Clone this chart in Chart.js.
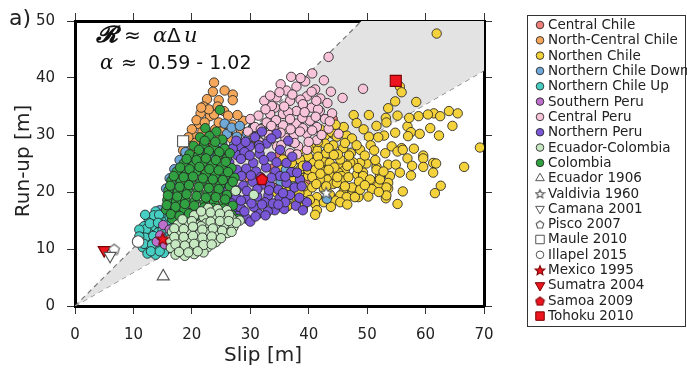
<!DOCTYPE html>
<html>
<head>
<meta charset="utf-8">
<script src="https://cdn.jsdelivr.net/npm/chart.js@4.4.1/dist/chart.umd.min.js"></script>
<style>
  html, body { margin: 0; padding: 0; background: #fff; }
  canvas { display: block; }
</style>
</head>
<body>
<canvas id="chart" width="687" height="368"></canvas>
<script>
// slip [m], run-up [m]
const centralChile = [[44.1,32.8],[38.3,25.7],[39.4,21.6],[33.8,24.1],[33.9,20.8],[35.0,26.5],[37.0,28.8],[29.8,22.5]];

const northCentralChile = [
  [23.8,39.2],[22.6,36.3],[24.6,36.1],[27.0,37.1],[27.0,36.1],[23.1,33.3],[23.8,33.6],[27.0,31.8],[28.8,32.5],
  [21.9,31.4],[21.2,31.9],[20.2,29.9],[19.2,28.2],[18.5,27.3],[20.5,28.6],[21.4,27.0],[23.1,28.6],[24.8,29.4],
  [19.0,25.0],[20.3,23.5],[23.4,25.0],[22.0,35.0],[21.5,33.8],[25.5,34.2],[26.2,30.5],[22.6,30.2],[19.8,26.6],
  [24.0,31.0],[25.8,27.5],[27.8,33.5],[22.9,34.5],[20.8,32.6],[29.6,26.5],[28.0,29.0],[21.8,24.0],[30.5,28.8],
  [23.6,37.6],[25.6,37.8],[21.6,34.8],[24.4,35.0],[26.2,33.4],[22.2,32.2],[24.6,32.2],[20.0,31.0],[22.4,29.0],
  [25.0,30.6],[19.4,29.6],[18.8,26.2],[20.0,27.6],[21.8,30.6],[26.8,29.4],[28.4,30.8],[23.2,26.4]
];

const northernChile = [
  [61.9,47.8],[55.6,38.5],[55.9,37.5],[54.8,35.9],[58.4,35.8],[53.6,34.7],[47.7,33.5],[50.3,33.5],[53.2,33.0],
  [55.2,33.4],[58.8,33.3],[61.4,33.8],[62.5,33.3],[64.0,34.2],[65.5,33.8],[48.2,32.1],[53.3,32.2],[64.6,31.6],
  [56.9,31.5],[57.5,30.5],[57.0,29.8],[62.3,29.9],[69.3,27.8],[52.9,29.9],[50.3,29.7],[51.9,29.6],[42.8,29.9],
  [44.2,30.2],[46.5,29.9],[47.4,29.4],[50.6,28.2],[54.2,28.0],[55.9,27.7],[59.6,26.4],[53.1,26.8],[55.2,27.1],
  [56.1,27.4],[56.9,25.9],[59.6,25.9],[61.3,25.1],[61.8,25.0],[57.7,24.6],[59.6,24.4],[61.3,23.4],[66.6,24.4],
  [57.5,22.9],[53.6,24.8],[54.9,24.8],[51.6,24.4],[49.9,25.0],[48.8,25.1],[47.6,25.2],[47.2,26.8],[48.3,23.1],
  [50.8,21.9],[52.2,22.8],[53.9,22.8],[53.6,21.6],[51.9,21.1],[53.6,20.6],[53.2,18.9],[55.2,17.9],[62.6,21.1],
  [61.6,19.8],[49.3,23.4],[45.4,24.8],[46.2,23.9],[45.6,21.4],[47.6,19.9],[48.5,19.1],[47.1,19.4],[46.2,18.7],
  [44.7,18.7],[43.1,25.1],[43.9,22.8],[45.1,23.4],[43.1,22.2],[45.6,22.8],[43.9,30.5],[44.8,29.7],[42.8,28.5],
  [44.2,28.2],[45.9,27.7],[48.8,27.4],[41.4,27.4],[39.9,26.2],[38.5,25.7],[40.8,25.1],[42.5,25.4],[43.6,25.1],
  [45.4,25.7],[47.1,25.1],[51.6,23.9],[49.3,22.8],[50.5,22.2],[52.2,22.2],[53.3,20.8],[45.9,22.0],[44.2,21.4],
  [47.4,20.8],[45.9,19.9],[45.4,19.4],[46.5,19.1],[47.9,19.1],[44.5,18.5],[45.4,18.2],[41.4,19.1],[41.1,17.9],
  [41.4,16.8],[39.7,19.9],[37.9,18.2],[36.5,17.6],[37.4,19.4],[35.9,19.4],[35.6,21.1],[37.1,22.2],[38.5,22.8],
  [39.9,22.8],[38.5,23.9],[39.9,23.9],[41.1,23.9],[42.5,23.6],[41.9,22.2],[44.8,21.6],[35.1,23.9],[35.6,25.7],
  [37.1,25.1],[38.5,27.4],[56.1,20.1],[53.3,19.4],[50.8,20.5],[36.3,17.5],[41.1,16.0],[34.4,20.0],[42.0,31.0],
  [40.4,28.4],[46.2,28.6],[49.6,26.4],[51.2,27.3],[43.0,26.8],[39.2,21.0],[42.6,20.5],[43.6,19.6],[40.6,20.8],
  [40.0,27.6],[41.6,28.8],[43.4,27.7],[45.0,26.6],[46.9,26.4],[48.2,28.2],[41.6,26.2],[44.3,26.5],[39.0,24.6],
  [41.8,24.8],[44.4,24.3],[46.6,24.6],[48.4,24.2],[37.2,23.5],[40.6,22.6],[42.0,23.2],[43.4,23.9],[44.9,22.6],
  [46.8,22.6],[48.6,21.8],[36.8,21.0],[38.0,20.8],[41.3,21.4],[43.0,21.0],[46.2,21.0],[48.8,20.4],[38.4,19.8],
  [40.2,18.6],[42.6,18.2],[43.8,17.4],[39.0,17.3],[46.6,17.8],[50.2,19.2],[52.0,20.0],[49.6,21.2],[51.4,25.6],
  [52.8,23.6],[55.6,23.4],[58.0,27.6],[57.2,33.0],[60.4,33.6],[46.0,31.4],[49.4,31.0],[51.6,31.6],[54.8,30.4],
  [59.0,30.2],[60.8,31.2],[44.6,31.8]
];

const northernChileDown = [
  [17.4,20.5],[18.3,22.5],[22.5,25.1],[23.3,23.3],[26.0,30.2],[27.7,29.7],[29.4,30.2],[30.5,31.4],[22.2,27.4],
  [24.8,27.7],[24.0,26.2],[43.1,18.8],[36.1,23.9],[36.1,18.9],[19.1,24.5],[30.4,31.1],[14.5,16.8],[17.1,20.5],
  [16.6,19.0],[20.5,26.0],[28.6,28.4],[31.4,29.0],[25.6,32.0],[17.8,21.6],[18.8,23.4],[21.2,25.6],[25.2,28.6],
  [26.8,31.3],[28.2,31.6],[32.0,31.2],[27.2,28.2],[16.2,18.0],[18.2,20.2],[29.8,29.4],[37.4,21.0],[35.2,21.8],
  [16.2,22.4],[17.0,24.0],[17.9,25.6],[15.6,20.6],[18.9,27.0]
];

const northernChileUp = [
  [13.8,16.6],[15.2,16.3],[16.4,16.9],[12.6,15.3],[14.0,15.0],[15.4,15.4],[11.8,14.0],[13.2,13.8],[14.6,14.2],
  [16.0,14.0],[11.4,12.8],[12.8,12.6],[14.2,12.9],[15.6,12.5],[11.2,11.5],[12.5,11.3],[13.9,11.6],[15.3,11.2],
  [11.6,10.3],[13.0,10.1],[14.4,10.4],[15.8,10.0],[12.4,9.2],[13.8,9.0],[15.2,9.3],[17.0,15.6],[16.8,12.0],
  [12.2,13.5],[13.5,15.9],[12.0,16.0],[14.4,16.0],[11.0,13.4],[12.0,12.0],[13.4,12.3],[14.9,12.0],[11.8,10.9],
  [13.2,10.8],[14.6,10.9],[13.0,9.6],[14.5,9.6],[12.8,14.5],[14.2,14.6],[15.6,14.8],[16.2,15.6],[15.0,13.4],
  [11.0,12.2]
];

const southernPeru = [[15.1,14.2],[14.0,11.3],[15.4,10.8],[16.2,13.4],[22.5,18.2],[14.6,12.4],[19.5,16.0],[25.2,22.0]];

const centralPeru = [
  [39.4,39.4],[37.9,38.5],[41.1,38.0],[39.7,36.8],[34.5,36.6],[36.8,36.0],[34.2,34.8],[31.4,33.4],[33.4,33.7],
  [35.6,33.7],[37.9,34.2],[40.5,34.8],[41.9,34.2],[42.8,32.8],[40.2,32.5],[37.9,32.0],[35.6,31.7],[32.8,32.2],
  [30.8,31.4],[39.7,30.2],[37.4,29.7],[41.4,29.1],[38.2,28.0],[39.7,27.4],[36.8,26.8],[41.4,31.4],[43.4,31.1],
  [43.4,43.7],[49.3,38.1],[45.8,36.5],[33.7,35.1],[41.6,34.5],[45.1,30.2],[36.2,37.8],[38.6,36.2],[35.2,38.9],
  [32.4,36.0],[36.5,34.0],[38.9,33.0],[34.0,31.0],[36.0,29.5],[33.2,30.0],[42.0,36.4],[39.0,31.2],[43.2,35.6],
  [29.6,30.6],[31.6,28.7],[34.6,28.0],[40.6,40.8],[37.0,40.2],[38.6,40.0],[42.6,39.6],[40.5,37.6],[37.2,37.1],
  [35.0,37.5],[33.4,36.9],[41.3,36.0],[43.8,37.6],[39.0,35.4],[35.8,35.0],[32.6,34.5],[30.0,32.8],[34.4,32.6],
  [36.8,32.8],[39.3,34.0],[41.2,33.2],[44.0,33.8],[31.8,31.0],[33.6,31.6],[38.5,30.6],[40.6,30.8],[35.2,30.4],
  [42.2,30.0],[37.6,28.6],[35.3,28.2],[40.0,28.8],[33.0,28.9],[36.9,31.0],[43.6,32.4],[38.0,26.6],[30.6,29.6]
];

const northernPeru = [
  [34.5,30.2],[32.8,28.5],[29.9,28.0],[28.2,28.0],[30.8,29.6],[27.7,26.5],[30.5,25.1],[35.1,27.4],[36.2,25.1],
  [29.0,27.0],[31.6,26.7],[33.6,26.2],[26.4,25.2],[27.7,23.9],[25.4,22.8],[29.3,24.1],[31.0,23.6],[32.7,24.3],
  [34.3,23.6],[35.1,22.8],[37.0,23.5],[39.7,24.5],[26.6,21.4],[28.8,21.1],[30.4,21.8],[32.0,21.3],[33.4,21.1],
  [36.2,21.6],[38.5,22.2],[24.9,20.6],[34.8,20.4],[26.0,19.4],[27.6,19.0],[29.4,18.8],[31.2,19.2],[33.1,19.4],
  [35.0,18.9],[36.8,19.5],[39.7,18.2],[37.8,17.6],[27.1,16.2],[29.4,15.3],[30.0,14.8],[31.4,16.2],[32.5,18.2],
  [34.2,16.8],[28.4,17.2],[30.6,17.4],[33.0,16.6],[35.8,17.0],[36.5,29.0],[32.0,30.6],[33.6,29.4],[31.5,28.2],
  [29.2,28.8],[27.0,27.6],[28.4,25.8],[29.9,26.4],[32.3,25.6],[34.5,25.2],[37.2,26.2],[26.2,23.8],[28.5,22.8],
  [30.1,22.9],[31.8,22.6],[33.6,22.5],[36.0,22.7],[38.0,23.4],[37.6,20.8],[25.8,21.7],[27.6,20.3],[29.4,20.2],
  [31.2,20.5],[33.2,20.3],[35.6,19.8],[38.4,19.0],[26.8,18.0],[28.4,18.5],[30.2,18.0],[32.0,17.8],[33.9,18.0],
  [36.0,18.2],[27.8,15.8],[29.0,16.6],[30.9,15.7],[32.6,15.9],[34.8,17.8],[31.6,27.7],[27.6,29.0],[26.0,26.6],
  [38.8,21.0],[39.0,16.8]
];

const ecuadorColombia = [
  [22.8,17.2],[24.4,17.0],[26.0,16.8],[20.4,15.9],[22.0,15.6],[23.6,15.8],[25.2,15.5],[26.8,15.4],[28.2,15.0],
  [17.6,14.3],[19.2,14.6],[20.8,14.2],[22.4,14.5],[24.0,14.1],[25.6,14.3],[27.1,13.8],[16.6,13.0],[18.2,12.7],
  [19.8,13.1],[21.4,12.8],[23.0,13.0],[24.6,12.6],[26.1,12.8],[16.2,11.6],[17.8,11.3],[19.4,11.7],[21.0,11.4],
  [22.6,11.6],[24.1,11.2],[16.4,10.2],[18.0,9.9],[19.6,10.3],[21.2,10.0],[22.7,10.3],[17.2,9.0],[18.8,8.8],
  [20.4,9.1],[22.0,9.4],[30.6,19.5],[27.5,20.2],[21.6,16.6],[23.2,16.4],[24.8,16.2],[26.4,16.0],[27.6,14.6],
  [18.4,15.2],[20.0,14.9],[21.6,14.0],[23.2,14.8],[24.8,14.9],[26.3,14.9],[17.0,13.6],[18.6,13.5],[20.2,13.9],
  [21.8,13.4],[23.6,13.6],[25.2,13.2],[26.8,13.0],[17.0,12.1],[18.6,12.1],[20.2,12.3],[21.8,12.0],[23.4,12.2],
  [25.0,11.9],[17.2,10.8],[18.8,10.6],[20.4,10.9],[22.0,10.7],[23.4,10.8],[17.8,9.5],[19.4,9.4],[21.0,9.6]
];

const colombia = [
  [24.8,34.4],[22.3,31.2],[24.2,30.6],[21.4,29.6],[23.0,29.8],[25.2,29.2],[20.3,28.1],[22.1,28.4],[23.8,27.9],
  [25.6,27.6],[19.6,26.6],[21.0,26.2],[22.7,26.8],[24.4,26.3],[26.0,25.9],[18.6,25.0],[20.2,24.6],[21.8,25.1],
  [23.5,24.8],[25.1,24.5],[26.8,24.2],[17.4,23.6],[19.0,23.2],[20.7,23.5],[22.4,23.2],[24.0,23.0],[25.7,22.8],
  [27.3,22.5],[16.5,22.0],[18.1,21.8],[19.8,21.9],[21.5,21.6],[23.2,21.4],[24.9,21.3],[26.5,21.0],[16.0,20.3],
  [17.6,20.0],[19.3,20.4],[21.0,20.1],[22.7,19.8],[24.4,19.9],[26.0,19.5],[15.8,18.6],[17.3,18.3],[18.9,18.7],
  [20.5,18.4],[22.2,18.1],[23.8,18.3],[25.5,17.9],[27.0,17.6],[15.6,16.9],[17.1,16.6],[18.7,17.0],[20.3,16.7],
  [22.0,16.5],[23.6,16.3],[25.2,16.4],[26.8,16.0],[16.6,15.3],[18.2,15.1],[28.0,15.3],[22.2,29.0],[24.0,28.8],
  [21.2,27.4],[22.9,27.2],[24.7,27.0],[26.5,26.8],[19.1,25.8],[20.8,25.6],[22.4,25.9],[24.1,25.6],[25.8,25.3],
  [18.0,24.3],[19.6,24.0],[21.3,24.4],[23.0,24.0],[24.6,23.8],[26.2,23.5],[16.9,22.8],[18.6,22.6],[20.2,22.7],
  [21.9,22.4],[23.6,22.2],[25.3,22.1],[27.0,21.8],[16.3,21.1],[17.9,20.9],[19.5,21.2],[21.2,20.9],[22.9,20.7],
  [24.6,20.5],[15.9,19.4],[17.5,19.2],[19.1,19.6],[20.8,19.3],[22.4,19.0],[24.1,19.1],[25.7,18.7],[15.7,17.7],
  [17.2,17.4],[18.8,17.9],[20.4,17.6],[22.1,17.3],[23.7,17.2],[25.4,17.1],[16.4,16.1],[17.9,15.8],[19.5,16.2],
  [21.2,15.9]
];

// single events
const ecuador1906 = [[15.1,5.2]];
const valdivia1960 = [[43.0,19.9]];
const camana2001 = [[6.0,8.8]];
const pisco2007 = [[6.7,10.0]];
const maule2010 = [[18.5,28.9]];
const illapel2015 = [[10.8,11.3]];
const mexico1995 = [[15.0,11.8]];
const sumatra2004 = [[5.0,9.8]];
const samoa2009 = [[32.0,22.3]];
const tohoku2010 = [[54.9,39.5]];

// scaling wedge R = alpha * slip, alpha 0.59 - 1.02
const wedgeHigh = [[0,0],[70,71.4]];
const wedgeLow = [[0,0],[70,41.3]];

const FONT = 'DejaVu Sans';
const EDGE = 'rgba(35,35,35,0.85)';
const WHITE_EDGE = '#555';
const RED = '#ec1520';
const RED_EDGE = '#7a0000';

Chart.defaults.font.family = FONT;

function pts(list) {
  return list.map(([x, y]) => ({ x, y }));
}

function makeMarker(shape, fill, stroke, size) {
  const c = document.createElement('canvas');
  c.width = size;
  c.height = size;
  const g = c.getContext('2d');
  const cx = size / 2;
  const cy = size / 2;
  const r = size / 2 - 1;
  g.beginPath();
  if (shape === 'star') {
    for (let k = 0; k < 10; k += 1) {
      const rr = k % 2 ? r * 0.45 : r;
      const a = -Math.PI / 2 + (k * Math.PI) / 5;
      g.lineTo(cx + rr * Math.cos(a), cy + 0.6 + rr * Math.sin(a));
    }
  } else {
    for (let k = 0; k < 5; k += 1) {
      const a = -Math.PI / 2 + (k * 2 * Math.PI) / 5;
      g.lineTo(cx + r * Math.cos(a), cy + 0.8 + r * Math.sin(a));
    }
  }
  g.closePath();
  g.fillStyle = fill;
  g.fill();
  g.lineWidth = 1.1;
  g.strokeStyle = stroke;
  g.stroke();
  return c;
}

function cloud(label, list, fill, order) {
  return {
    label,
    data: pts(list),
    backgroundColor: fill,
    borderColor: EDGE,
    borderWidth: 1,
    pointRadius: 4.7,
    pointStyle: 'circle',
    order,
    legendStyle: { pointStyle: 'circle', radius: 3.8, rotation: 0 },
  };
}

function event(label, list, opts) {
  return {
    label,
    data: pts(list),
    backgroundColor: opts.fill,
    borderColor: opts.stroke,
    borderWidth: 1.1,
    pointStyle: opts.style,
    pointRadius: opts.radius,
    rotation: opts.rotation || 0,
    order: 1,
    legendStyle: { pointStyle: opts.legend || opts.style, radius: opts.legendRadius, rotation: opts.rotation || 0 },
  };
}

const datasets = [
  cloud('Central Chile', centralChile, '#EF7F7A', 19),
  cloud('North-Central Chile', northCentralChile, '#F5A85C', 18),
  cloud('Northen Chile', northernChile, '#F4D23C', 17),
  cloud('Northern Chile Down', northernChileDown, '#70A9D8', 16),
  cloud('Northern Chile Up', northernChileUp, '#46CEC3', 15),
  cloud('Southern Peru', southernPeru, '#BC6FCB', 14),
  cloud('Central Peru', centralPeru, '#F8C4DA', 13),
  cloud('Northern Peru', northernPeru, '#7957D6', 12),
  cloud('Ecuador-Colombia', ecuadorColombia, '#C6E9C2', 10),
  cloud('Colombia', colombia, '#31A040', 11),
  event('Ecuador 1906', ecuador1906, { fill: '#fff', stroke: WHITE_EDGE, style: 'triangle', radius: 7, legendRadius: 5 }),
  event('Valdivia 1960', valdivia1960, {
    fill: '#fff', stroke: WHITE_EDGE, style: makeMarker('star', '#fff', WHITE_EDGE, 14), legend: makeMarker('star', '#fff', WHITE_EDGE, 11), radius: 7,
  }),
  event('Camana 2001', camana2001, { fill: '#fff', stroke: WHITE_EDGE, style: 'triangle', rotation: 180, radius: 7, legendRadius: 5 }),
  event('Pisco 2007', pisco2007, {
    fill: '#fff', stroke: WHITE_EDGE, style: makeMarker('pentagon', '#fff', WHITE_EDGE, 13), legend: makeMarker('pentagon', '#fff', WHITE_EDGE, 10), radius: 7,
  }),
  event('Maule 2010', maule2010, { fill: '#fff', stroke: WHITE_EDGE, style: 'rect', radius: 7.8, legendRadius: 6 }),
  event('Illapel 2015', illapel2015, { fill: '#fff', stroke: WHITE_EDGE, style: 'circle', radius: 5.8, legendRadius: 3.8 }),
  event('Mexico 1995', mexico1995, {
    fill: RED, stroke: RED_EDGE, style: makeMarker('star', RED, RED_EDGE, 15), legend: makeMarker('star', RED, RED_EDGE, 12), radius: 7,
  }),
  event('Sumatra 2004', sumatra2004, { fill: RED, stroke: RED_EDGE, style: 'triangle', rotation: 180, radius: 7, legendRadius: 5.5 }),
  event('Samoa 2009', samoa2009, {
    fill: RED, stroke: RED_EDGE, style: makeMarker('pentagon', RED, RED_EDGE, 14), legend: makeMarker('pentagon', RED, RED_EDGE, 11), radius: 7,
  }),
  event('Tohoku 2010', tohoku2010, { fill: RED, stroke: RED_EDGE, style: 'rect', radius: 7.8, legendRadius: 6 }),
  {
    label: 'wedge-high',
    data: pts(wedgeHigh),
    showLine: true,
    pointRadius: 0,
    borderColor: '#777',
    borderWidth: 1.2,
    borderDash: [5, 4],
    backgroundColor: '#e3e3e3',
    fill: '+1',
    order: 50,
  },
  {
    label: 'wedge-low',
    data: pts(wedgeLow),
    showLine: true,
    pointRadius: 0,
    borderColor: '#777',
    borderWidth: 1.2,
    borderDash: [5, 4],
    fill: false,
    order: 51,
  },
];

const tickGrid = { drawOnChartArea: false, drawTicks: true, tickLength: 8, color: '#333', lineWidth: 1 };
const frame = { display: true, color: '#000', width: 3 };
const tickFont = { family: FONT, size: 15 };

const decor = {
  id: 'decor',
  afterDraw(chart) {
    const { ctx } = chart;
    ctx.save();
    ctx.fillStyle = '#222';
    ctx.textBaseline = 'alphabetic';

    // panel letter
    ctx.font = `22px "${FONT}"`;
    ctx.textAlign = 'left';
    ctx.fillText('a)', 9, 25);

    // axis titles
    ctx.font = `20px "${FONT}"`;
    ctx.textAlign = 'center';
    ctx.fillText('Slip [m]', 263, 361);
    ctx.save();
    ctx.translate(29, 161);
    ctx.rotate(-Math.PI / 2);
    ctx.fillText('Run-up [m]', 0, 0);
    ctx.restore();

    // scaling relation
    ctx.textAlign = 'left';
    ctx.fillStyle = '#111';
    ctx.font = 'bold italic 23px "DejaVu Serif"';
    ctx.fillText('\u{1D4E1}', 96, 42);
    ctx.font = `20px "${FONT}"`;
    ctx.fillText('\u2248', 124, 42);
    ctx.font = 'italic 21px "DejaVu Serif"';
    ctx.fillText('\u03B1', 153, 42);
    ctx.font = `20px "${FONT}"`;
    ctx.fillText('\u0394', 167, 42);
    ctx.font = 'italic 21px "DejaVu Serif"';
    ctx.fillText('u', 184, 42);

    ctx.font = 'italic 20px "DejaVu Serif"';
    ctx.fillText('\u03B1', 100, 69);
    ctx.font = `19px "${FONT}"`;
    ctx.fillText('\u2248', 121, 69);
    ctx.fillText('0.59 - 1.02', 148, 69);

    // legend box
    ctx.strokeStyle = '#333';
    ctx.lineWidth = 1;
    ctx.strokeRect(527.5, 15.5, 158, 311);
    ctx.font = `13.5px "${FONT}"`;
    ctx.textBaseline = 'middle';
    let row = 0;
    chart.data.datasets.forEach((ds) => {
      if (!ds.legendStyle) return;
      const y = 25 + row * 15.32;
      ctx.fillStyle = ds.backgroundColor;
      ctx.strokeStyle = ds.borderColor;
      ctx.lineWidth = 1;
      Chart.helpers.drawPoint(ctx, {
        pointStyle: ds.legendStyle.pointStyle,
        rotation: ds.legendStyle.rotation,
        radius: ds.legendStyle.radius,
        borderWidth: 1,
      }, 540, y);
      ctx.fillStyle = '#222';
      ctx.fillText(ds.label, 548, y + 0.5);
      row += 1;
    });
    ctx.restore();
  },
};

new Chart(document.getElementById('chart'), {
  type: 'scatter',
  data: { datasets },
  options: {
    responsive: false,
    animation: false,
    events: [],
    layout: { padding: 0 },
    plugins: {
      legend: { display: false },
      tooltip: { enabled: false },
    },
    scales: {
      x: {
        type: 'linear',
        position: 'bottom',
        min: 0,
        max: 70,
        ticks: { stepSize: 10, font: tickFont, color: '#222', padding: 12, maxRotation: 0 },
        grid: tickGrid,
        border: frame,
        afterFit: (s) => { s.height = 62; },
      },
      xTop: {
        type: 'linear',
        position: 'top',
        min: 0,
        max: 70,
        ticks: { stepSize: 10, display: false },
        grid: tickGrid,
        border: frame,
        afterFit: (s) => { s.height = 15; },
      },
      y: {
        type: 'linear',
        position: 'left',
        min: 0,
        max: 50,
        ticks: { stepSize: 10, font: tickFont, color: '#222', padding: 12 },
        grid: tickGrid,
        border: frame,
        afterFit: (s) => { s.width = 75; },
      },
      yRight: {
        type: 'linear',
        position: 'right',
        min: 0,
        max: 50,
        ticks: { stepSize: 10, display: false },
        grid: tickGrid,
        border: frame,
        afterFit: (s) => { s.width = 203; },
      },
    },
  },
  plugins: [decor],
});
</script>
</body>
</html>
